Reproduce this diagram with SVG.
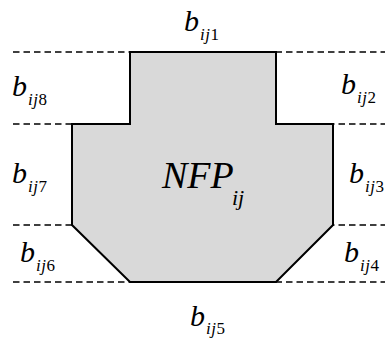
<svg xmlns="http://www.w3.org/2000/svg" width="385" height="339" viewBox="0 0 385 339">
<style>
.dash{stroke:#000;stroke-width:1.5;stroke-dasharray:6.5 4;fill:none}
.shape{fill:#d9d9d9;stroke:#000;stroke-width:2;stroke-linejoin:miter}
text{font-family:"Liberation Serif","Times New Roman",serif;fill:#000}
.b{font-size:30px;font-style:italic}
.s{font-size:17px;font-style:italic}
.d{font-style:normal}
.n{font-size:38px;font-style:italic}
.ns{font-size:22px;font-style:italic}
</style>
<g id="lines">
<line class="dash" x1="13" y1="52" x2="385" y2="52"/>
<line class="dash" x1="13" y1="124" x2="385" y2="124"/>
<line class="dash" x1="13" y1="225" x2="385" y2="225"/>
<line class="dash" x1="13" y1="282" x2="385" y2="282"/>
</g>
<g id="nfp">
<polygon class="shape" points="130,52 276,52 276,124 333,124 333,225 276,282 130,282 72,225 72,124 130,124"/>
<text x="162" y="188" class="n">NFP</text>
<text x="232" y="205" class="ns">ij</text>
</g>
<g id="b1"><text x="184" y="31" class="b">b</text><text x="200" y="40" class="s" letter-spacing="0.5">ij<tspan class="d">1</tspan></text></g>
<g id="b2"><text x="341" y="94" class="b">b</text><text x="357" y="103" class="s" letter-spacing="0.5">ij<tspan class="d">2</tspan></text></g>
<g id="b3"><text x="349" y="183" class="b">b</text><text x="365" y="192" class="s" letter-spacing="0.5">ij<tspan class="d">3</tspan></text></g>
<g id="b4"><text x="344" y="262" class="b">b</text><text x="360" y="271" class="s" letter-spacing="0.5">ij<tspan class="d">4</tspan></text></g>
<g id="b5"><text x="190" y="326" class="b">b</text><text x="206" y="334" class="s" letter-spacing="0.5">ij<tspan class="d">5</tspan></text></g>
<g id="b6"><text x="20" y="262" class="b">b</text><text x="36" y="271" class="s" letter-spacing="0.5">ij<tspan class="d">6</tspan></text></g>
<g id="b7"><text x="12" y="183" class="b">b</text><text x="28" y="192" class="s" letter-spacing="0.5">ij<tspan class="d">7</tspan></text></g>
<g id="b8"><text x="12" y="96" class="b">b</text><text x="28" y="105" class="s" letter-spacing="0.5">ij<tspan class="d">8</tspan></text></g>
</svg>
